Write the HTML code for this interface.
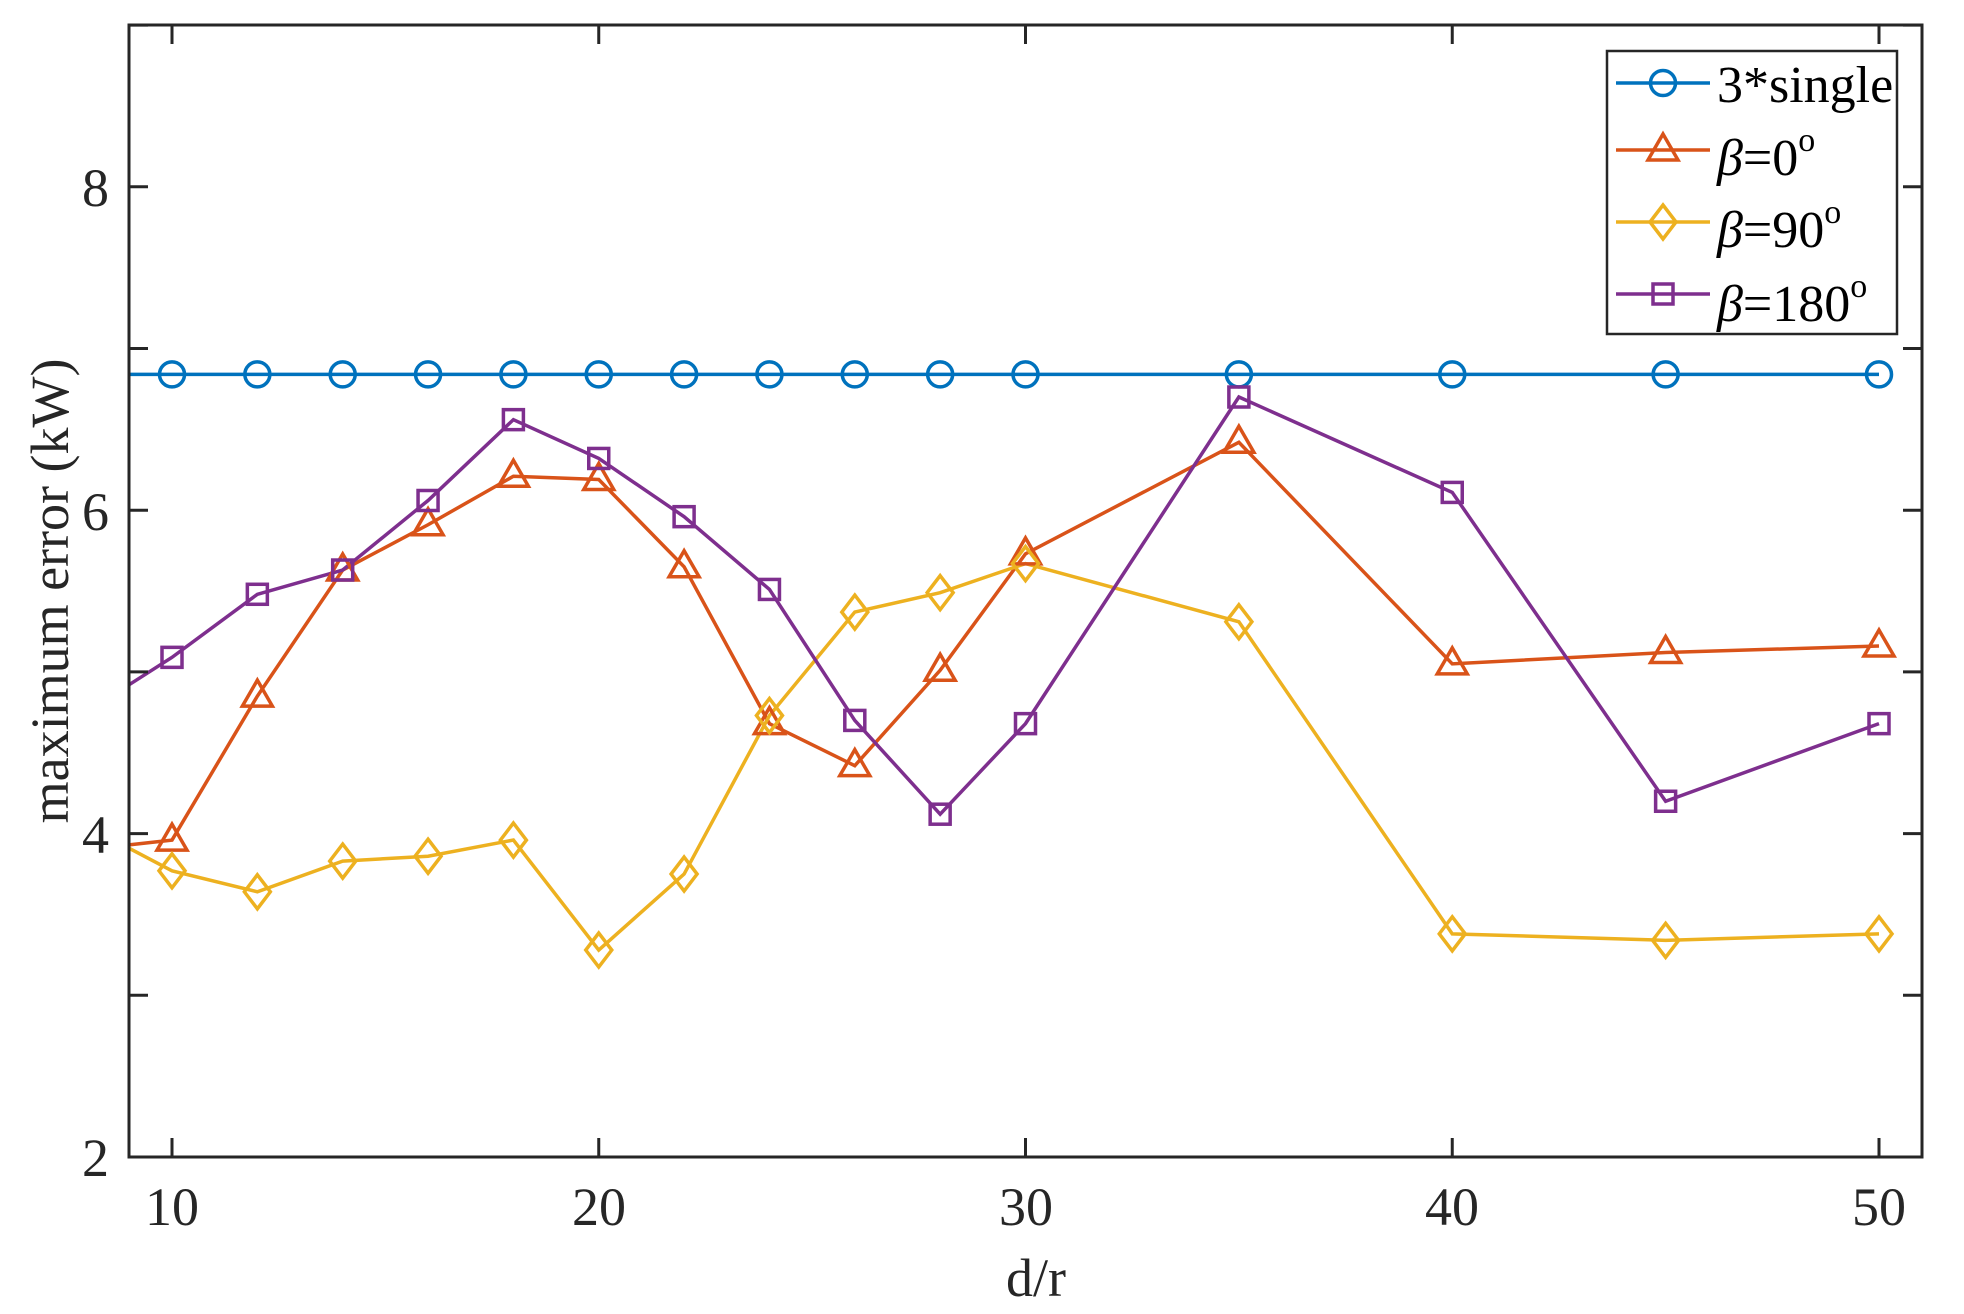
<!DOCTYPE html>
<html><head><meta charset="utf-8"><style>
html,body{margin:0;padding:0;background:#fff;}
svg{display:block;font-family:"Liberation Serif",serif;}
</style></head><body>
<svg id="s" width="1964" height="1314" viewBox="0 0 1964 1314" xmlns="http://www.w3.org/2000/svg">
<rect width="1964" height="1314" fill="#fff"/>
<g id="plot"></g>
<rect x="129" y="25" width="1793" height="1132" fill="none" stroke="#262626" stroke-width="3"/>
<g id="ticks" stroke="#262626" stroke-width="3"></g>
<g font-size="54" fill="#262626">
<text x="172" y="1225" text-anchor="middle">10</text>
<text x="599" y="1225" text-anchor="middle">20</text>
<text x="1026" y="1225" text-anchor="middle">30</text>
<text x="1452" y="1225" text-anchor="middle">40</text>
<text x="1879" y="1225" text-anchor="middle">50</text>
<text x="109" y="1176" text-anchor="end">2</text>
<text x="109" y="853" text-anchor="end">4</text>
<text x="109" y="530" text-anchor="end">6</text>
<text x="109" y="206" text-anchor="end">8</text>
<text x="1036" y="1296" text-anchor="middle" font-size="54">d/r</text>
<text transform="translate(68,591) rotate(-90)" text-anchor="middle" font-size="54">maximum error (kW)</text>
</g>
<rect x="1607" y="51" width="290" height="283" fill="#fff" stroke="#262626" stroke-width="2.5"/>
<g id="leg"></g>
<g font-size="52" fill="#000">
<text x="1717" y="102">3*single</text>
<text x="1717" y="175"><tspan font-style="italic">β</tspan>=0<tspan font-size="34" dy="-24">o</tspan></text>
<text x="1717" y="247"><tspan font-style="italic">β</tspan>=90<tspan font-size="34" dy="-24">o</tspan></text>
<text x="1717" y="321"><tspan font-style="italic">β</tspan>=180<tspan font-size="34" dy="-24">o</tspan></text>
</g>
</svg>
<script>
const NS="http://www.w3.org/2000/svg";
const X=v=>172+(v-10)*42.675, Y=v=>1157-(v-2)*161.7;
const xs=[10,12,14,16,18,20,22,24,26,28,30,35,40,45,50];
const series=[
 {c:"#0072BD",m:"o",x0:null,d:xs.map(()=>6.84)},
 {c:"#D95319",m:"t",x0:3.93,d:[3.96,4.85,5.63,5.91,6.21,6.19,5.65,4.68,4.42,5.01,5.73,6.42,5.05,5.12,5.16]},
 {c:"#EDB120",m:"d",x0:3.91,d:[3.77,3.64,3.83,3.86,3.96,3.28,3.75,4.73,5.37,5.49,5.67,5.31,3.38,3.34,3.38]},
 {c:"#7E2F8E",m:"s",x0:4.92,d:[5.09,5.48,5.63,6.06,6.56,6.32,5.96,5.51,4.70,4.12,4.68,6.70,6.11,4.20,4.68]}
];
function el(t,a,p){const e=document.createElementNS(NS,t);for(const k in a)e.setAttribute(k,a[k]);p.appendChild(e);return e;}
function marker(m,x,y,c,p){
 const a={fill:"none",stroke:c,"stroke-width":3.5};
 if(m=="o")el("circle",Object.assign({cx:x,cy:y,r:12.5},a),p);
 if(m=="t")el("polygon",Object.assign({points:`${x},${y-16} ${x-15},${y+10} ${x+15},${y+10}`},a),p);
 if(m=="d")el("polygon",Object.assign({points:`${x},${y-17} ${x+13},${y} ${x},${y+17} ${x-13},${y}`},a),p);
 if(m=="s")el("rect",Object.assign({x:x-10,y:y-10,width:20,height:20},a),p);
}
const g=document.getElementById("plot");
series.forEach(s=>{
 let pts=[];
 if(s.x0!==null)pts.push([129,Y(s.x0)]);
 xs.forEach((x,i)=>pts.push([X(x),Y(s.d[i])]));
 if(s.m=="o")pts.unshift([129,Y(6.84)]);
 el("polyline",{points:pts.map(p=>p.join(",")).join(" "),fill:"none",stroke:s.c,"stroke-width":3.5},g);
});
series.forEach(s=>xs.forEach((x,i)=>marker(s.m,X(x),Y(s.d[i]),s.c,g)));
const t=document.getElementById("ticks");
for(let v=10;v<=50;v+=10){el("line",{x1:X(v),x2:X(v),y1:1157,y2:1138},t);el("line",{x1:X(v),x2:X(v),y1:25,y2:44},t);}
for(let v=2;v<=9;v++){el("line",{x1:129,x2:148,y1:Y(v),y2:Y(v)},t);el("line",{x1:1922,x2:1903,y1:Y(v),y2:Y(v)},t);}
const L=document.getElementById("leg");
[83,150,222,294].forEach((y,i)=>{el("line",{x1:1616,x2:1710,y1:y,y2:y,stroke:series[i].c,"stroke-width":3.5},L);marker(series[i].m,1663,y,series[i].c,L);});
</script>
</body></html>
